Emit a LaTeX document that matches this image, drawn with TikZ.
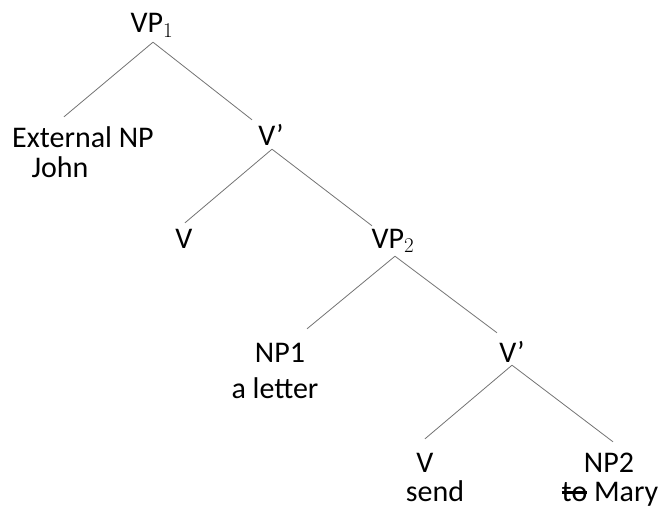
\RequirePackage{fix-cm}
\documentclass[tikz,border=0pt]{standalone}
\usepackage{fontspec}
\setmainfont{Carlito}
\newcommand\struck[1]{\setbox0\hbox{#1}\rlap{\rule[0.22em]{\wd0}{3pt}}\box0\relax}

\begin{document}
\begin{tikzpicture}[x=1pt,y=-1pt,font=\fontsize{30}{36}\selectfont,
    cat/.style={anchor=base,inner sep=0pt,text height=19pt,text depth=0pt},
    branch/.style={draw=black!55,line width=0.8pt}]
    \useasboundingbox (0,0) rectangle (666,508);
    % categories
    \node[cat] (VP1) at (152,33) {VP$_1$};
    \node[cat] (ExtNP) at (83,147) {External NP};
    \node[cat] (John) at (60,177) {John};
    \node[cat] (Vbar1) at (271,146) {V’};
    \node[cat] (Vhigh) at (184,248) {V};
    \node[cat] (VP2) at (393,248) {VP$_2$};
    \node[cat] (NP1) at (280,362) {NP1};
    \node[cat] (letter) at (275,398) {a letter};
    \node[cat] (Vbar2) at (512,362) {V’};
    \node[cat] (Vlow) at (425,472) {V};
    \node[cat] (send) at (435,501) {send};
    \node[cat] (NP2) at (609,472) {NP2};
    \node[cat] (Mary) at (610,501) {\struck{to} Mary};
    % branches
    \draw[branch] ([xshift=1pt,yshift=-9pt]VP1.south) -- ([xshift=-19pt,yshift=11pt]ExtNP.north);
    \draw[branch] ([xshift=1pt,yshift=-9pt]VP1.south) -- ([xshift=-19pt,yshift=7pt]Vbar1.north);
    \draw[branch] ([xshift=1pt,yshift=-3pt]Vbar1.south) -- ([xshift=1pt,yshift=6pt]Vhigh.north);
    \draw[branch] ([xshift=1pt,yshift=-3pt]Vbar1.south) -- ([xshift=-21pt,yshift=3pt]VP2.north);
    \draw[branch] ([xshift=2pt,yshift=-8pt]VP2.south) -- ([xshift=27pt,yshift=14pt]NP1.north);
    \draw[branch] ([xshift=2pt,yshift=-8pt]VP2.south) -- ([xshift=-15pt,yshift=10pt]Vbar2.north);
    \draw[branch] ([yshift=-3pt]Vbar2.south) -- ([yshift=14pt]Vlow.north);
    \draw[branch] ([yshift=-3pt]Vbar2.south) -- ([xshift=4pt,yshift=11pt]NP2.north);
\end{tikzpicture}
\end{document}
